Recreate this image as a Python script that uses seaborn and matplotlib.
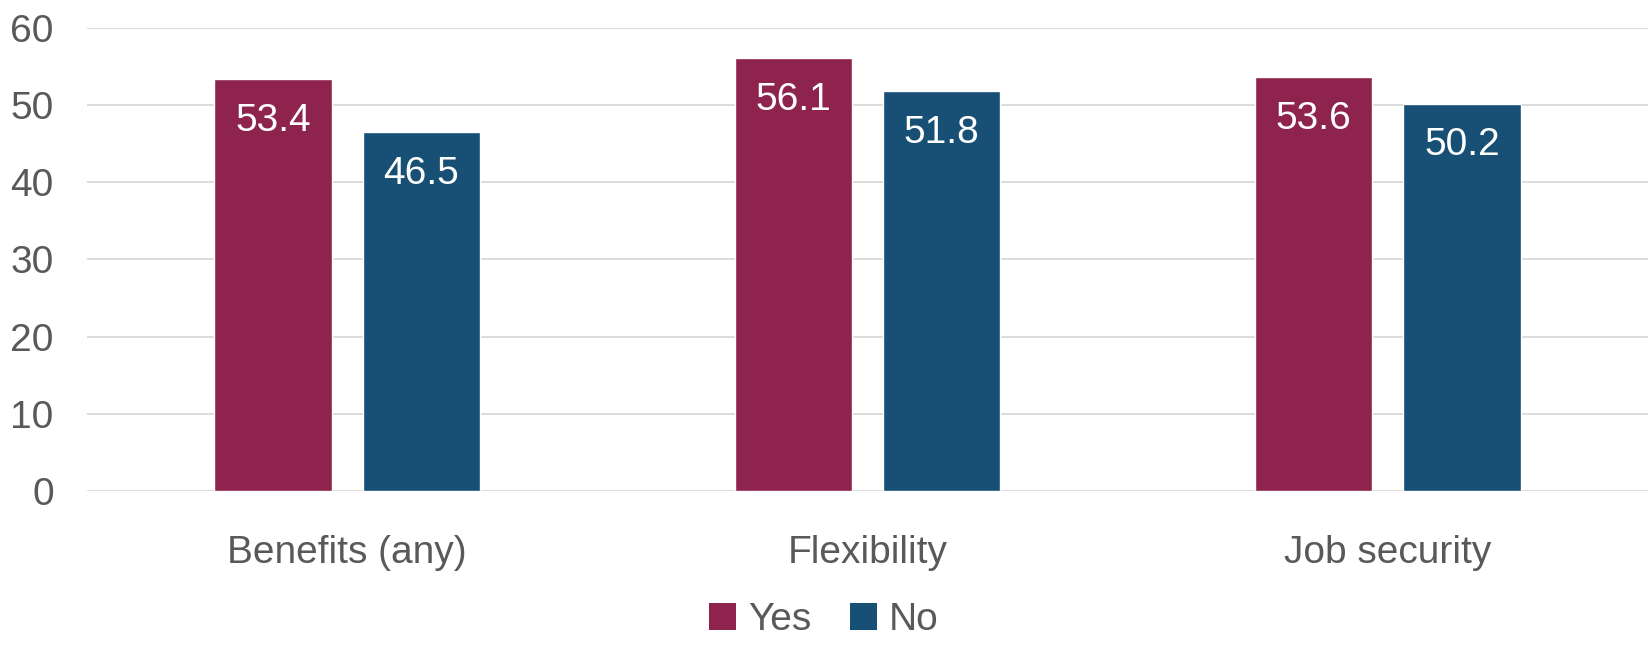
import matplotlib
matplotlib.use("Agg")
import matplotlib.pyplot as plt
import seaborn as sns
import pandas as pd
from matplotlib import font_manager as fm
from matplotlib.patches import Patch

categories = ["Benefits (any)", "Flexibility", "Job security"]
series = ["Yes", "No"]
yes_values = [53.4, 56.1, 53.6]
no_values = [46.5, 51.8, 50.2]
y_ticks = [0, 10, 20, 30, 40, 50, 60]

colors = {"Yes": "#8E244D", "No": "#174F75"}
text_gray = "#595959"

sns.set_theme(style="white")
names = {f.name for f in fm.fontManager.ttflist}
fam = "Liberation Sans Narrow" if "Liberation Sans Narrow" in names else "Liberation Sans"
plt.rcParams["font.family"] = [fam, "DejaVu Sans"]

df = pd.DataFrame({
    "category": categories * 2,
    "series": ["Yes"] * 3 + ["No"] * 3,
    "value": yes_values + no_values,
})

fig = plt.figure(figsize=(16.48, 6.45), dpi=100)
ax = fig.add_axes([0.0528, 0.2388, 0.9472, 0.7178])
sns.barplot(data=df, x="category", y="value", hue="series", hue_order=series,
            palette=colors, width=0.57, gap=0.21, saturation=1, ax=ax,
            legend=False, errorbar=None)

ax.set_ylim(0, 60)
ax.set_xlim(-0.5, 2.5)
ax.set_yticks(y_ticks)
ax.set_yticklabels([str(t) for t in y_ticks])
ax.yaxis.grid(True, color="#D9D9D9", linewidth=1.3)
ax.set_axisbelow(True)
for s in ax.spines.values():
    s.set_visible(False)
ax.set_xlabel("")
ax.set_ylabel("")
ax.tick_params(axis="y", length=0, pad=24, labelsize=28, labelcolor=text_gray)
ax.tick_params(axis="x", length=0, pad=32, labelsize=28, labelcolor=text_gray)

for container in ax.containers:
    for bar in container:
        h = bar.get_height()
        ax.annotate(f"{h:.1f}", (bar.get_x() + bar.get_width() / 2, h),
                    xytext=(0, -30), textcoords="offset points",
                    ha="center", va="center", color="white", fontsize=28)

handles = [Patch(facecolor=colors[s], edgecolor="none") for s in series]
fig.legend(handles, series, loc="center", bbox_to_anchor=(0.5, 0.038),
           ncol=2, frameon=False, fontsize=28, handlelength=0.7, handleheight=0.7,
           handletextpad=0.3, columnspacing=1.0, labelcolor=text_gray,
           borderpad=0.1)

fig.savefig("out.png", dpi=100)
